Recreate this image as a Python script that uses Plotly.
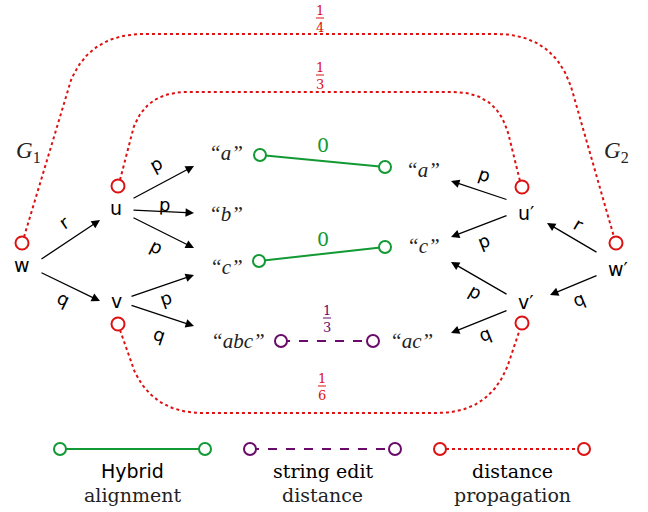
import numpy as np
import plotly.graph_objects as go

W, H = 648, 512
SERIF = "DejaVu Serif, Liberation Serif, serif"
ITAL = "Liberation Serif, DejaVu Serif, serif"
SANS = "DejaVu Sans, Liberation Sans, sans-serif"
RED = "#dd1111"
GREEN = "#119933"
PURPLE = "#6a0a6a"

# ---- nodes of the two graphs (label, x, y) ----
node_labels = ["w", "u", "v", "w′", "u′", "v′"]
node_x = [22, 116, 116, 618, 526, 526]
node_y = [265, 208, 301, 269, 213, 302]

# red propagation circles
red_x = [22, 118, 118, 616, 522, 522]
red_y = [243, 186, 324, 243, 187, 323]

# ---- string leaves ----
str_labels = ["“a”", "“b”", "“c”", "“abc”", "“a”", "“c”", "“ac”"]
str_x = [226, 226, 226, 238, 423, 423, 411]
str_y = [153, 214, 267, 341, 170, 246, 341]

# ---- edges: (x0, y0, x1, y1, label, lx, ly) ----
edge_x0 = [40, 40, 132, 132, 132, 130, 130, 508, 508, 598, 598, 508, 508]
edge_y0 = [260, 272, 199, 210, 217, 297, 305, 200, 215, 253, 275, 295, 310]
edge_x1 = [100, 100, 194, 194, 194, 194, 194, 451, 451, 547, 550, 451, 451]
edge_y1 = [220, 301, 166, 213, 248, 275, 326, 181, 237, 223, 295, 262, 333]
edge_lab = ["r", "q", "p", "p", "p", "p", "q", "p", "p", "r", "q", "p", "q"]
edge_lx = [64, 63, 155, 164, 156, 165, 159, 484, 483, 579, 578, 475, 484]
edge_ly = [222, 298, 164, 204, 246, 298, 334, 174, 241, 224, 299, 291, 334]

# ---- alignment links ----
green_x0 = [260, 259]
green_y0 = [155, 261]
green_x1 = [385, 385]
green_y1 = [167, 247]
green_val = ["0", "0"]
green_lx = [323, 323]
green_ly = [145, 239]

purple_x = [281, 373]
purple_y = [341, 341]
purple_num, purple_den = "1", "3"

# ---- red dotted propagation paths (corner points) ----
outer_pts = [(24, 237), (84, 34), (556, 34), (614, 237)]
inner_pts = [(120, 180), (142, 92), (498, 92), (520, 181)]
bottom_pts = [(120, 330), (148, 413), (492, 413), (520, 329)]
frac_num = ["1", "1", "1"]
frac_den = ["4", "3", "6"]
frac_x = [320, 320, 322]
frac_y = [18, 75, 386]


def rounded(points, r):
    pts = np.array(points, float)
    out = [pts[0]]
    for i in range(1, len(pts) - 1):
        a, c, b = pts[i - 1], pts[i], pts[i + 1]
        d1 = (a - c) / np.linalg.norm(a - c)
        d2 = (b - c) / np.linalg.norm(b - c)
        p1 = c + d1 * r
        p2 = c + d2 * r
        t = np.linspace(0, 1, 30)[:, None]
        q = (1 - t) ** 2 * p1 + 2 * (1 - t) * t * c + t ** 2 * p2
        out.extend(q)
    out.append(pts[-1])
    out = np.array(out)
    return out[:, 0], out[:, 1]


def ring(color):
    return dict(symbol="circle", size=12, color="white", line=dict(width=2, color=color))


fig = go.Figure()

# red dotted curves
for pts, r in [(outer_pts, 60), (inner_pts, 45), (bottom_pts, 55)]:
    xs, ys = rounded(pts, r)
    fig.add_trace(go.Scatter(x=xs, y=ys, mode="lines",
                             line=dict(color=RED, width=2, dash="dot"),
                             hoverinfo="skip"))

# green links
for i in range(len(green_x0)):
    fig.add_trace(go.Scatter(x=[green_x0[i], green_x1[i]], y=[green_y0[i], green_y1[i]],
                             mode="lines+markers",
                             line=dict(color=GREEN, width=2),
                             marker=ring(GREEN), hoverinfo="skip"))
    fig.add_annotation(x=green_lx[i], y=green_ly[i], text=green_val[i], showarrow=False,
                       font=dict(family=SERIF, size=19, color=GREEN))

# purple link
fig.add_trace(go.Scatter(x=purple_x, y=purple_y, mode="lines+markers",
                         line=dict(color=PURPLE, width=2, dash="dash"),
                         marker=ring(PURPLE), hoverinfo="skip"))


def fraction(x, y, num, den, color):
    fig.add_annotation(x=x, y=y - 8, text=num, showarrow=False,
                       font=dict(family=SERIF, size=13, color=color))
    fig.add_annotation(x=x, y=y + 9, text=den, showarrow=False,
                       font=dict(family=SERIF, size=13, color=color))
    fig.add_shape(type="line", x0=x - 4, x1=x + 4, y0=y, y1=y,
                  line=dict(color=color, width=1))


fraction(327, 318, purple_num, purple_den, PURPLE)
for i in range(len(frac_num)):
    fraction(frac_x[i], frac_y[i], frac_num[i], frac_den[i], RED)

# red circles
fig.add_trace(go.Scatter(x=red_x, y=red_y, mode="markers",
                         marker=dict(symbol="circle", size=13, color="white",
                                     line=dict(width=2, color=RED)),
                         hoverinfo="skip"))

# edges with sloped labels
for i in range(len(edge_x0)):
    fig.add_annotation(x=edge_x1[i], y=edge_y1[i], ax=edge_x0[i], ay=edge_y0[i],
                       xref="x", yref="y", axref="x", ayref="y",
                       showarrow=True, arrowhead=2, arrowsize=1.3, arrowwidth=1.3,
                       arrowcolor="black", text="")
    ang = np.degrees(np.arctan2(edge_y1[i] - edge_y0[i], edge_x1[i] - edge_x0[i]))
    if ang > 90:
        ang -= 180
    elif ang < -90:
        ang += 180
    fig.add_annotation(x=edge_lx[i], y=edge_ly[i], text=edge_lab[i], showarrow=False,
                       textangle=ang, font=dict(family=SANS, size=18, color="black"))

# node labels
for i in range(len(node_labels)):
    fig.add_annotation(x=node_x[i], y=node_y[i], text=node_labels[i], showarrow=False,
                       font=dict(family=SANS, size=19, color="black"))

# string labels
for i in range(len(str_labels)):
    fig.add_annotation(x=str_x[i], y=str_y[i], text="<i>" + str_labels[i] + "</i>",
                       showarrow=False, font=dict(family=ITAL, size=21, color="#222"))

# graph names
fig.add_annotation(x=28, y=152, text="<i>G</i><sub>1</sub>", showarrow=False,
                   font=dict(family=ITAL, size=23, color="#222"))
fig.add_annotation(x=616, y=152, text="<i>G</i><sub>2</sub>", showarrow=False,
                   font=dict(family=ITAL, size=23, color="#222"))

# legend
leg_x0 = [60, 250, 440]
leg_x1 = [205, 395, 584]
leg_y = 449
leg_color = [GREEN, PURPLE, RED]
leg_dash = ["solid", "dash", "dot"]
leg_line1 = ["Hybrid", "string edit", "distance"]
leg_line2 = ["alignment", "distance", "propagation"]
leg_font1 = [SANS, SERIF, SERIF]
for i in range(3):
    fig.add_trace(go.Scatter(x=[leg_x0[i], leg_x1[i]], y=[leg_y, leg_y], mode="lines+markers",
                             line=dict(color=leg_color[i], width=2, dash=leg_dash[i]),
                             marker=ring(leg_color[i]), hoverinfo="skip"))
    cx = (leg_x0[i] + leg_x1[i]) / 2
    fig.add_annotation(x=cx, y=471, text=leg_line1[i], showarrow=False,
                       font=dict(family=leg_font1[i], size=19, color="black"))
    fig.add_annotation(x=cx, y=495, text=leg_line2[i], showarrow=False,
                       font=dict(family=SERIF, size=19, color="#222"))

fig.update_layout(width=W, height=H, margin=dict(l=0, r=0, t=0, b=0),
                  paper_bgcolor="white", plot_bgcolor="white", showlegend=False,
                  xaxis=dict(range=[0, W], visible=False, fixedrange=True),
                  yaxis=dict(range=[H, 0], visible=False, fixedrange=True))

fig.write_html("out.html", config={"displayModeBar": False},
               post_script="document.body.style.margin='0';document.body.style.overflow='hidden';")
